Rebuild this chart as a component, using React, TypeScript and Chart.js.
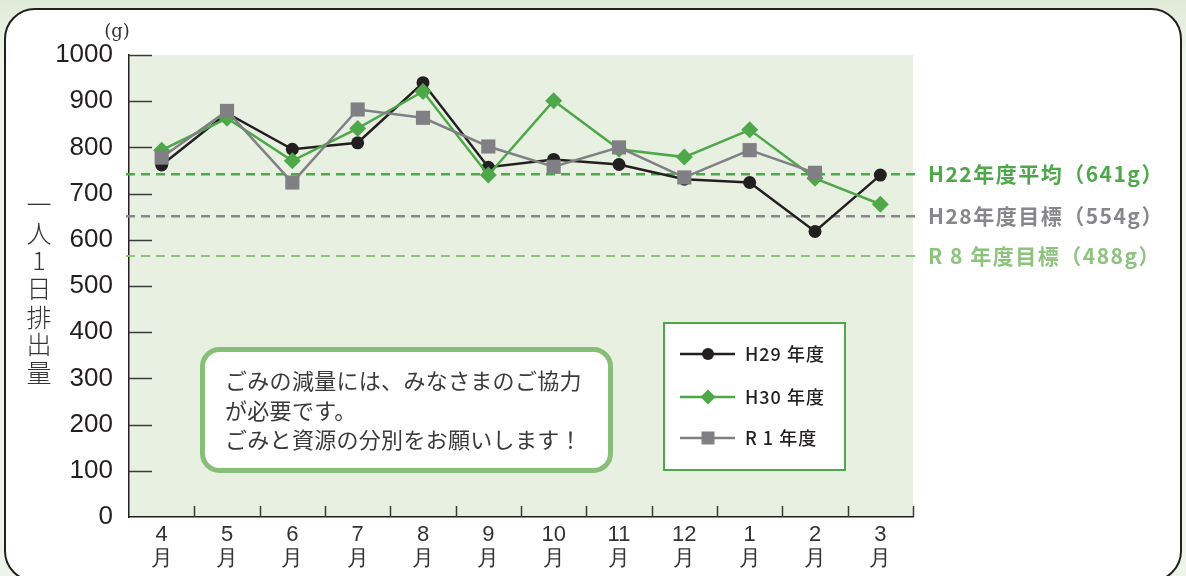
import React, { useEffect, useRef } from "react";
import { Chart, registerables } from "chart.js";

Chart.register(...registerables);

const monthLabels: string[][] = [
  ["4", "月"], ["5", "月"], ["6", "月"], ["7", "月"], ["8", "月"], ["9", "月"],
  ["10", "月"], ["11", "月"], ["12", "月"], ["1", "月"], ["2", "月"], ["3", "月"],
];
const seriesNames = ["H29 年度", "H30 年度", "R 1 年度"];
const h29Values = [762, 874, 796, 810, 940, 757, 774, 763, 731, 724, 618, 740];
const h30Values = [794, 863, 771, 841, 921, 740, 901, 796, 779, 838, 733, 677];
const r1Values: (number | null)[] = [778, 879, 724, 882, 864, 802, 758, 800, 735, 794, 745, null];

const refLevels = [742, 651, 565];
const refLabels = ["H22年度平均（641g）", "H28年度目標（554g）", "R 8 年度目標（488g）"];
const refColors = ["#4ea84a", "#87878b", "#8dc37d"];

const yTitleChars = ["一", "人", "1", "日", "排", "出", "量"];
const messageLines = [
  "ごみの減量には、みなさまのご協力",
  "が必要です。",
  "ごみと資源の分別をお願いします！",
];

const BLACK = "#231f20";
const GREEN = "#4ea84a";
const GRAY = "#808084";
const JP = "'Noto Sans CJK JP', 'Noto Sans', sans-serif";
const NARROW = "'Liberation Sans Narrow', 'Liberation Sans', sans-serif";

const decor = {
  id: "decor",
  beforeDraw(chart: any) {
    const { ctx, chartArea: a, width, height } = chart;
    ctx.save();
    const g = ctx.createLinearGradient(0, 0, 0, 60);
    g.addColorStop(0, "#e1ebd9");
    g.addColorStop(1, "#eef4ea");
    ctx.fillStyle = g;
    ctx.fillRect(0, 0, width, height);
    ctx.beginPath();
    ctx.roundRect(5, 9, 1176, 572, 30);
    ctx.fillStyle = "#ffffff";
    ctx.fill();
    ctx.lineWidth = 2;
    ctx.strokeStyle = BLACK;
    ctx.stroke();
    ctx.fillStyle = "#e8f0e2";
    ctx.fillRect(a.left, a.top, a.right - a.left, a.bottom - a.top);
    ctx.restore();
  },
  beforeDatasetsDraw(chart: any) {
    const { ctx, chartArea: a, scales } = chart;
    const y = scales.y;
    const x = scales.x;
    ctx.save();
    ctx.strokeStyle = "#3a3a3a";
    ctx.lineWidth = 1.5;
    y.ticks.forEach((t: any) => {
      if (t.value === 0) return;
      const py = Math.round(y.getPixelForValue(t.value)) + 0.5;
      ctx.beginPath();
      ctx.moveTo(a.left, py);
      ctx.lineTo(a.left + 23, py);
      ctx.stroke();
    });
    const n = monthLabels.length;
    for (let i = 0; i < n; i++) {
      const c = x.getPixelForValue(i);
      const next = i < n - 1 ? x.getPixelForValue(i + 1) : c + (c - x.getPixelForValue(i - 1));
      const px = Math.round((c + next) / 2) + 0.5;
      ctx.beginPath();
      ctx.moveTo(px, a.bottom);
      ctx.lineTo(px, a.bottom - 11);
      ctx.stroke();
    }
    refLevels.forEach((lv, i) => {
      const py = y.getPixelForValue(lv);
      ctx.beginPath();
      ctx.setLineDash([9, 6]);
      ctx.lineWidth = i === 2 ? 2 : 2.5;
      ctx.strokeStyle = refColors[i];
      ctx.moveTo(a.left - 3, py);
      ctx.lineTo(a.right + 8, py);
      ctx.stroke();
      ctx.setLineDash([]);
      ctx.fillStyle = refColors[i];
      ctx.font = `bold 21px ${JP}`;
      (ctx as any).letterSpacing = "1.5px";
      ctx.textBaseline = "middle";
      ctx.textAlign = "left";
      ctx.fillText(refLabels[i], a.right + 15, py);
      (ctx as any).letterSpacing = "0px";
    });
    ctx.restore();
  },
  afterDraw(chart: any) {
    const { ctx } = chart;
    ctx.save();
    ctx.fillStyle = "#333333";
    ctx.font = `300 25px ${JP}`;
    ctx.textAlign = "center";
    ctx.textBaseline = "middle";
    const ys = [204, 233, 260, 288, 317, 344, 372];
    yTitleChars.forEach((ch, i) => ctx.fillText(ch, 39, ys[i]));
    ctx.font = "18px 'DejaVu Serif', 'Liberation Serif', serif";
    ctx.fillText("(g)", 117, 32);

    ctx.beginPath();
    ctx.roundRect(202.5, 349.5, 408, 121, 17);
    ctx.fillStyle = "#ffffff";
    ctx.fill();
    ctx.lineWidth = 5;
    ctx.strokeStyle = "#88bf78";
    ctx.stroke();
    ctx.fillStyle = "#3a3a3a";
    ctx.font = `22px ${JP}`;
    (ctx as any).letterSpacing = "0.3px";
    ctx.textAlign = "left";
    const my = [381, 411, 440];
    messageLines.forEach((l, i) => ctx.fillText(l, 225, my[i]));
    (ctx as any).letterSpacing = "0px";

    ctx.fillStyle = "#ffffff";
    ctx.fillRect(664, 323, 181, 147);
    ctx.lineWidth = 2;
    ctx.strokeStyle = GREEN;
    ctx.strokeRect(664, 323, 181, 147);
    const ly = [354, 397, 438];
    const sets = chart.data.datasets;
    sets.forEach((ds: any, i: number) => {
      const yy = ly[i];
      ctx.beginPath();
      ctx.strokeStyle = ds.borderColor;
      ctx.lineWidth = 2.5;
      ctx.moveTo(680, yy);
      ctx.lineTo(735, yy);
      ctx.stroke();
      ctx.fillStyle = ds.borderColor;
      if (ds.pointStyle === "circle") {
        ctx.beginPath();
        ctx.arc(708, yy, 6, 0, Math.PI * 2);
        ctx.fill();
      } else if (ds.pointStyle === "rectRot") {
        ctx.beginPath();
        ctx.moveTo(708, yy - 7.5);
        ctx.lineTo(715.5, yy);
        ctx.lineTo(708, yy + 7.5);
        ctx.lineTo(700.5, yy);
        ctx.closePath();
        ctx.fill();
      } else {
        ctx.fillRect(701.5, yy - 6.5, 13, 13);
      }
      ctx.fillStyle = BLACK;
      ctx.font = `500 18px ${JP}`;
      (ctx as any).letterSpacing = "1px";
      ctx.textBaseline = "middle";
      ctx.fillText(seriesNames[i], 745, yy);
      (ctx as any).letterSpacing = "0px";
    });
    ctx.restore();
  },
};

export default function App() {
  const ref = useRef<HTMLCanvasElement | null>(null);
  useEffect(() => {
    if (!ref.current) return;
    const chart = new Chart(ref.current, {
      type: "line",
      data: {
        labels: monthLabels,
        datasets: [
          {
            label: seriesNames[0],
            data: h29Values,
            borderColor: BLACK,
            backgroundColor: BLACK,
            pointStyle: "circle",
            pointRadius: 6.5,
            pointBorderWidth: 0,
            borderWidth: 2.5,
            order: 3,
          },
          {
            label: seriesNames[1],
            data: h30Values,
            borderColor: GREEN,
            backgroundColor: GREEN,
            pointStyle: "rectRot",
            pointRadius: 8.5,
            pointBorderWidth: 0,
            borderWidth: 2.5,
            order: 2,
          },
          {
            label: seriesNames[2],
            data: r1Values,
            borderColor: GRAY,
            backgroundColor: GRAY,
            pointStyle: "rect",
            pointRadius: 10,
            pointBorderWidth: 0,
            borderWidth: 2.5,
            order: 1,
          },
        ],
      } as any,
      options: {
        responsive: false,
        animation: false,
        layout: { padding: { top: 55, right: 273, left: 0, bottom: 0 } },
        plugins: { legend: { display: false }, tooltip: { enabled: false } },
        scales: {
          x: {
            offset: true,
            grid: { display: false, drawTicks: false },
            border: { display: true, color: BLACK, width: 1.5 },
            ticks: {
              color: "#333333",
              font: { family: NARROW, size: 22, lineHeight: 1.08 },
              padding: 6,
              maxRotation: 0,
              autoSkip: false,
            },
            afterFit: (s: any) => {
              s.height = 59;
            },
          },
          y: {
            min: 0,
            max: 1000,
            grid: { display: false, drawTicks: false },
            border: { display: true, color: BLACK, width: 1.5 },
            ticks: {
              stepSize: 100,
              color: BLACK,
              font: { family: NARROW, size: 26 },
              padding: 16,
              callback: (v: any) => String(v),
            },
            afterFit: (s: any) => {
              s.width = 129;
            },
          },
        },
      } as any,
      plugins: [decor],
    });
    return () => chart.destroy();
  }, []);
  return (
    <div style={{ position: "fixed", left: 0, top: 0, width: 1186, height: 576 }}>
      <canvas ref={ref} width={1186} height={576} style={{ display: "block" }} />
    </div>
  );
}
